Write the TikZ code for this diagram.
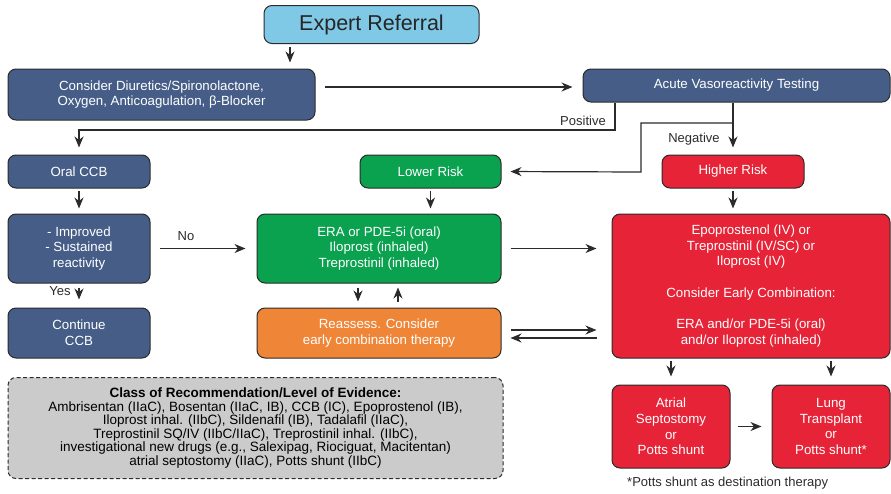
\documentclass[tikz,border=0pt]{standalone}
\usepackage{fontspec}
\setmainfont{Liberation Sans}
\usetikzlibrary{arrows.meta}
\definecolor{cblue}{HTML}{7FC8E6}
\definecolor{cnavy}{HTML}{465E87}
\definecolor{cgreen}{HTML}{0AA14F}
\definecolor{corange}{HTML}{EF8537}
\definecolor{cred}{HTML}{E62337}
\definecolor{cgray}{HTML}{CBCBCB}
\definecolor{cline}{HTML}{2B2B2B}
\tikzset{
  box/.style={draw=cline, line width=1pt, rounded corners=8pt, align=center, text=white,
    inner sep=2pt, font=\fontsize{13.3}{15.7}\selectfont},
  navybox/.style={box, fill=cnavy},
  greenbox/.style={box, fill=cgreen},
  orangebox/.style={box, fill=corange},
  redbox/.style={box, fill=cred},
  conn/.style={draw=cline, line width=1.2pt, -{Stealth[length=11pt,width=9pt,inset=3.5pt]}},
  lbl/.style={font=\fontsize{13}{15}\selectfont, text=cline, inner sep=0pt}
}
\begin{document}
\begin{tikzpicture}[x=1pt,y=-1pt]
\useasboundingbox (0,0) rectangle (891,493);
% nodes
\node[box, fill=cblue, text=black!85, font=\fontsize{21.5}{25}\selectfont, minimum width=215pt, minimum height=38pt] (er) at (371.5,24.5) {Expert Referral};
\node[navybox, minimum width=307pt, minimum height=51pt] (diur) at (161.5,94.5) {Consider Diuretics/Spironolactone,\\Oxygen, Anticoagulation, β-Blocker};
\node[navybox, minimum width=307pt, minimum height=33pt] (avt) at (736.5,85.5) {Acute Vasoreactivity Testing};
\node[navybox, minimum width=142pt, minimum height=33pt] (ccb) at (79,171.5) {Oral CCB};
\node[greenbox, minimum width=141pt, minimum height=33pt] (low) at (430.5,171.5) {Lower Risk};
\node[redbox, minimum width=142pt, minimum height=33pt] (high) at (733,171.5) {Higher Risk};
\node[navybox, minimum width=142pt, minimum height=69pt] (imp) at (79,248.5) {- Improved\\- Sustained\\reactivity};
\node[greenbox, minimum width=244pt, minimum height=69pt] (era) at (379,248.5) {ERA or PDE-5i (oral)\\Iloprost (inhaled)\\Treprostinil (inhaled)};
\node[redbox, minimum width=278pt, minimum height=144pt] (big) at (751,286) {Epoprostenol (IV) or\\Treprostinil (IV/SC) or\\Iloprost (IV)\\[15.7pt]Consider Early Combination:\\[15.7pt]ERA and/or PDE-5i (oral)\\and/or Iloprost (inhaled)};
\node[navybox, minimum width=142pt, minimum height=50pt] (cont) at (79,333) {Continue\\CCB};
\node[orangebox, minimum width=244pt, minimum height=50pt] (reas) at (379,333) {Reassess. Consider\\early combination therapy};
\node[box, fill=cgray, text=black, dashed, dash pattern=on 4pt off 2.5pt, minimum width=495pt, minimum height=101pt, font=\fontsize{13.5}{13.5}\selectfont] (cls) at (255.5,428) {\textbf{Class of Recommendation/Level of Evidence:}\\Ambrisentan (IIaC), Bosentan (IIaC, IB), CCB (IC), Epoprostenol (IB),\\Iloprost inhal. (IIbC), Sildenafil (IB), Tadalafil (IIaC),\\Treprostinil SQ/IV (IIbC/IIaC), Treprostinil inhal. (IIbC),\\investigational new drugs (e.g., Salexipag, Riociguat, Macitentan)\\atrial septostomy (IIaC), Potts shunt (IIbC)};
\node[redbox, minimum width=118pt, minimum height=83pt] (atr) at (671,426.5) {Atrial\\Septostomy\\or\\Potts shunt};
\node[redbox, minimum width=118pt, minimum height=83pt] (lung) at (831,426.5) {Lung\\Transplant\\or\\Potts shunt*};
\node[lbl, anchor=west] (foot) at (627,483) {*Potts shunt as destination therapy};
% labels
\node[lbl] (lpos) at (583,121) {Positive};
\node[lbl] (lneg) at (694,139) {Negative};
\node[lbl] (lno) at (186,236) {No};
\node[lbl] (lyes) at (60,291) {Yes};
% coordinates
\coordinate (e1) at (290,44);
\coordinate (p1) at (615,130);
\coordinate (n1) at (733,123);
\coordinate (n2) at (641,123);
\coordinate (n3) at (641,172);
% connectors
\draw[conn, shorten <=3pt, shorten >=6pt] (e1) -- (e1 |- diur.north);
\draw[conn, shorten <=9pt, shorten >=10pt] (diur.east |- 0,87) -- (avt.west |- 0,87);
\draw[conn, shorten >=7pt] (p1 |- avt.south) -- (p1) -- (p1 -| ccb.north) -- (ccb.north);
\draw[conn, shorten >=7pt] (high.north |- avt.south) -- (high.north);
\draw[conn, shorten >=9pt] (n1) -- (n2) -- (n3) -- (low.east);
\draw[conn, shorten <=2pt, shorten >=5pt] (ccb.south) -- (imp.north);
\draw[conn, shorten <=2pt, shorten >=5pt] (low.south) -- (low.south |- era.north);
\draw[conn, shorten <=2pt, shorten >=5pt] (high.south) -- (high.south |- big.north);
\draw[conn, shorten <=9pt, shorten >=11pt] (imp.east) -- (era.west);
\draw[conn, shorten <=9pt, shorten >=15pt] (era.east) -- (big.west |- era.east);
\draw[conn, shorten <=4pt, shorten >=8pt] (imp.south) -- (cont.north);
\draw[conn, shorten <=4pt, shorten >=6pt] (era.south -| 358,0) -- (reas.north -| 358,0);
\draw[conn, shorten <=6pt, shorten >=4pt] (reas.north -| 398,0) -- (era.south -| 398,0);
\draw[conn, shorten <=9pt, shorten >=15pt] (reas.east |- 0,330) -- (big.west |- 0,330);
\draw[conn, shorten <=15pt, shorten >=9pt] (big.west |- 0,338) -- (reas.east |- 0,338);
\draw[conn, shorten <=2pt, shorten >=8pt] (big.south -| atr.north) -- (atr.north);
\draw[conn, shorten <=2pt, shorten >=8pt] (big.south -| lung.north) -- (lung.north);
\draw[conn, shorten <=7pt, shorten >=10pt] (atr.east) -- (lung.west);
\end{tikzpicture}
\end{document}
